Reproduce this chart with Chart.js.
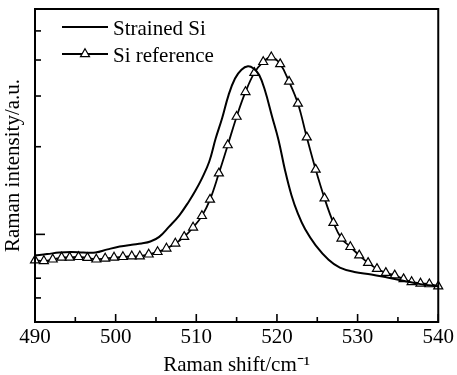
<!DOCTYPE html>
<html><head><meta charset="utf-8">
<script src="https://cdn.jsdelivr.net/npm/chart.js@4/dist/chart.umd.min.js"></script>
<style>html,body{margin:0;padding:0;background:#fff}#wrap{width:457px;height:375px}</style>
</head><body><div id="wrap"><canvas id="c" width="457" height="375"></canvas></div>
<script>
// Strained Si spectrum (Raman shift, intensity a.u.)
const strainedX = [490, 491.5, 493, 494.5, 496, 497.5, 499, 500.5, 502, 503.2, 504.3, 505.4, 506.6, 507.9, 509.1, 509.9, 510.7, 511.6, 512.4, 513.2, 514.0, 514.8, 515.6, 516.4, 517.1, 517.8, 518.5, 519.4, 520.2, 521.0, 521.8, 522.6, 523.5, 524.8, 526.4, 527.8, 529.6, 531.7, 533.7, 535.8, 537.8, 540];
const strainedY = [21.3, 21.7, 22.2, 22.4, 22.2, 22.2, 23.2, 24.1, 24.7, 25.1, 25.7, 27.2, 30.4, 34.1, 38.6, 42.0, 45.9, 51.2, 58.6, 65.1, 72.5, 77.8, 80.6, 81.7, 81.0, 78.9, 74.1, 65.6, 58.1, 48.5, 40.5, 34.6, 29.6, 24.5, 19.9, 17.4, 16.0, 15.2, 14.2, 13.1, 12.1, 11.4];
// Si reference spectrum
const refX = [490.0, 491.1, 492.2, 493.3, 494.3, 495.4, 496.5, 497.6, 498.7, 499.8, 500.9, 502.0, 503.0, 504.1, 505.2, 506.3, 507.4, 508.5, 509.6, 510.7, 511.7, 512.8, 513.9, 515.0, 516.1, 517.2, 518.3, 519.3, 520.4, 521.5, 522.6, 523.7, 524.8, 525.9, 527.0, 528.0, 529.1, 530.2, 531.3, 532.4, 533.5, 534.6, 535.7, 536.7, 537.8, 538.9, 540.0];
const refY = [19.7, 19.5, 20.0, 20.6, 20.6, 20.8, 20.5, 20.0, 20.3, 20.6, 20.8, 21.0, 21.0, 21.6, 22.4, 23.5, 25.1, 27.2, 30.2, 33.9, 39.1, 47.5, 56.5, 65.6, 73.5, 79.6, 83.1, 84.6, 82.4, 76.8, 69.8, 59.0, 48.7, 39.5, 31.7, 26.7, 24.0, 21.3, 18.9, 17.0, 15.7, 14.9, 13.7, 12.8, 12.3, 12.1, 11.4];
// Axis ticks
const xTickLabels = [490, 500, 510, 520, 530, 540];
const xMinorTicks = [495, 505, 515, 525, 535];
const yTickValues = [7.7, 14.0, 28.0, 56.0, 72.2, 83.7, 93.0];
const yLongTicks = [28.0];
const seriesNames = ['Strained Si', 'Si reference'];

const FONT = {family: "'Liberation Serif', 'Times New Roman', serif", size: 21};

const framePlugin = {
  id: 'frame',
  afterDatasetsDraw(chart) {
    const {ctx, chartArea: a, scales: {x, y}} = chart;
    ctx.save();
    ctx.strokeStyle = '#000';
    ctx.lineWidth = 2;
    ctx.strokeRect(a.left, a.top, a.right - a.left, a.bottom - a.top);
    ctx.lineWidth = 1.6;
    const seg = (x0, y0, x1, y1) => { ctx.beginPath(); ctx.moveTo(x0, y0); ctx.lineTo(x1, y1); ctx.stroke(); };
    xTickLabels.forEach(v => { const p = x.getPixelForValue(v); seg(p, a.bottom, p, a.bottom - 8); });
    xMinorTicks.forEach(v => { const p = x.getPixelForValue(v); seg(p, a.bottom, p, a.bottom - 5); });
    yTickValues.forEach(v => { const p = y.getPixelForValue(v); const L = yLongTicks.includes(v) ? 10 : 6; seg(a.left, p, a.left + L, p); });
    // legend
    const ds = chart.data.datasets;
    const lx0 = a.left + 27, lx1 = a.left + 73, tx = a.left + 78;
    [a.top + 18, a.top + 45].forEach((ly, i) => {
      ctx.strokeStyle = '#000';
      ctx.lineWidth = ds[i].borderWidth;
      seg(lx0, ly, lx1, ly);
      if (ds[i].pointRadius > 0) {
        ctx.fillStyle = '#fff';
        ctx.strokeStyle = '#000';
        ctx.lineWidth = ds[i].pointBorderWidth;
        Chart.helpers.drawPoint(ctx, {pointStyle: 'triangle', radius: ds[i].pointRadius, borderWidth: ds[i].pointBorderWidth, rotation: 0}, (lx0 + lx1) / 2, ly);
      }
      ctx.fillStyle = '#000';
      ctx.font = FONT.size + 'px ' + FONT.family;
      ctx.textBaseline = 'alphabetic';
      ctx.textAlign = 'left';
      ctx.fillText(ds[i].label, tx, ly + 8);
    });
    ctx.restore();
  }
};

new Chart(document.getElementById('c'), {
  type: 'line',
  data: {
    datasets: [
      {
        label: seriesNames[0],
        data: strainedX.map((v, i) => ({x: v, y: strainedY[i]})),
        borderColor: '#000', borderWidth: 2, pointRadius: 0,
        tension: 0.4, fill: false
      },
      {
        label: seriesNames[1],
        data: refX.map((v, i) => ({x: v, y: refY[i]})),
        borderColor: '#000', borderWidth: 1.8,
        pointStyle: 'triangle', pointRadius: 5.2, pointBorderWidth: 1.2,
        pointBackgroundColor: '#fff', pointBorderColor: '#000',
        tension: 0.4, fill: false, clip: false
      }
    ]
  },
  options: {
    responsive: false, animation: false, devicePixelRatio: 1,
    layout: {padding: {top: 9, right: 16, left: 0, bottom: 0}},
    plugins: {legend: {display: false}, tooltip: {enabled: false}},
    scales: {
      x: {
        type: 'linear', min: 490, max: 540,
        afterBuildTicks: s => { s.ticks = xTickLabels.map(v => ({value: v})); },
        ticks: {font: FONT, color: '#000', padding: 3, maxRotation: 0},
        grid: {display: false, drawTicks: false},
        border: {display: false},
        title: {display: true, text: 'Raman shift/cm\u207B\u00B9', font: FONT, color: '#000', padding: {top: 0, bottom: -3}},
        afterFit: s => { s.height = 53; }
      },
      y: {
        type: 'linear', min: 0, max: 100,
        afterBuildTicks: s => { s.ticks = yTickValues.map(v => ({value: v})); },
        ticks: {display: false},
        grid: {display: false, drawTicks: false},
        border: {display: false},
        title: {display: true, text: 'Raman intensity/a.u.', font: FONT, color: '#000', padding: {top: 1, bottom: 0}},
        afterFit: s => { s.width = 35; }
      }
    }
  },
  plugins: [framePlugin]
});
</script>
</body></html>
